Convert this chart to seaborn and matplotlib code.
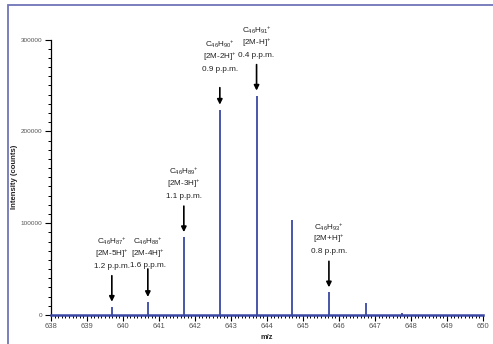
import matplotlib
matplotlib.use('Agg')
import matplotlib.pyplot as plt
import matplotlib.patches as patches
from matplotlib.ticker import MultipleLocator
import seaborn as sns

# peak list
mz = [639.69, 640.69, 641.69, 642.69, 643.71, 644.70, 645.72, 646.74, 647.74]
intensity = [9000, 14200, 84800, 223600, 238900, 103600, 24700, 13400, 2000]

# labelled peaks
lab_mz = [639.69, 640.69, 641.69, 642.69, 643.71, 645.72]
lab_formula = [r'C$_{46}$H$_{87}$$^{+}$', r'C$_{46}$H$_{88}$$^{+}$', r'C$_{46}$H$_{89}$$^{+}$',
               r'C$_{46}$H$_{90}$$^{+}$', r'C$_{46}$H$_{91}$$^{+}$', r'C$_{46}$H$_{93}$$^{+}$']
lab_ion = [r'[2M-5H]$^{+}$', r'[2M-4H]$^{+}$', r'[2M-3H]$^{+}$',
           r'[2M-2H]$^{+}$', r'[2M-H]$^{+}$', r'[2M+H]$^{+}$']
lab_ppm = ['1.2 p.p.m.', '1.6 p.p.m.', '1.1 p.p.m.', '0.9 p.p.m.', '0.4 p.p.m.', '0.8 p.p.m.']
arrow_len = [26, 28, 26, 17, 26, 26]  # px
text_gap = [35.5, 31, 35.5, 35.5, 35.5, 35.5]  # px from arrow tip to last text line

sns.set_style('ticks')
plt.rcParams['font.family'] = ['Liberation Sans', 'DejaVu Sans']
plt.rcParams['mathtext.default'] = 'regular'

blue = '#3a48a3'
pt = 0.72  # px -> points at dpi 100
fig = plt.figure(figsize=(4.93, 3.44), dpi=100)
ax = fig.add_axes([51/493, 1-315/344, 432/493, 275.5/344])

ax.vlines(mz, 0, intensity, color=blue, linewidth=1.3)
ax.set_xlim(638, 650)
ax.set_ylim(0, 300000)
ax.xaxis.set_major_locator(MultipleLocator(1))
ax.xaxis.set_minor_locator(MultipleLocator(0.1))
ax.yaxis.set_major_locator(MultipleLocator(100000))
ax.yaxis.set_minor_locator(MultipleLocator(10000))
ax.tick_params(axis='both', which='major', length=4.5, width=0.8, color='black', pad=1.5)
ax.tick_params(axis='both', which='minor', length=2.2, width=0.7, color='black')
ax.tick_params(axis='x', labelsize=5.5, labelcolor='#555555')
ax.tick_params(axis='y', labelsize=4.6, labelcolor='#555555')
sns.despine(ax=ax)
ax.spines['left'].set_linewidth(0.9)
ax.spines['left'].set_color('black')
ax.spines['bottom'].set_color(blue)
ax.spines['bottom'].set_linewidth(1.8)
ax.set_xlabel('m/z', fontsize=5.4, fontweight='bold', labelpad=2.5)
ax.set_ylabel('Intensity (counts)', fontsize=5.6, fontweight='bold', labelpad=2)

h_of = dict(zip(mz, intensity))
tip = 5 * pt
for m, f, ion, ppm, al, gap in zip(lab_mz, lab_formula, lab_ion, lab_ppm, arrow_len, text_gap):
    top = h_of[m]
    # arrow pointing down at the peak
    ax.annotate('', xy=(m, top), xytext=(0, tip + al * pt), textcoords='offset points',
                arrowprops=dict(arrowstyle='-|>', color='black', lw=1.2, mutation_scale=7.5,
                                shrinkA=0, shrinkB=tip))
    base = gap * pt + tip
    for i, s in enumerate([ppm, ion, f]):
        ax.annotate(s, xy=(m, top), xytext=(0, base + i * 12.5 * pt),
                    textcoords='offset points', ha='center', va='center',
                    fontsize=5.9, color='#222222')

# outer frame
fig.patches.append(patches.Rectangle((8/493, -0.5), 2, 1.5 - 5/344, transform=fig.transFigure,
                                     fill=False, edgecolor='#6f74b8', linewidth=1.3))

fig.savefig('out.png', dpi=100)
